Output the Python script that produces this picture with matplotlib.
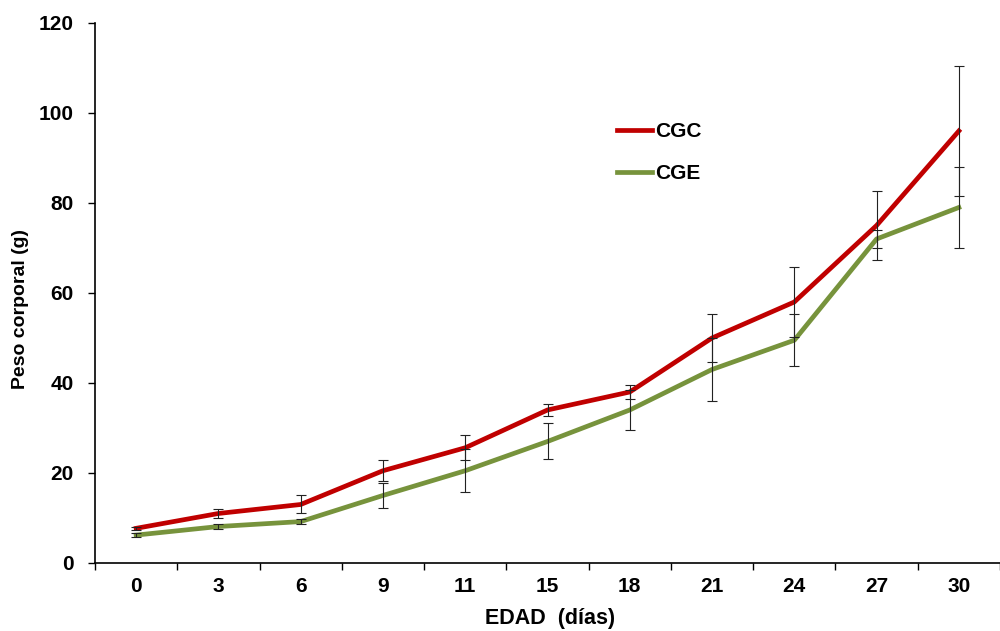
import matplotlib
matplotlib.use("Agg")
import matplotlib.pyplot as plt
import numpy as np

plt.rcParams['font.family'] = ['Liberation Sans', 'DejaVu Sans']

categories = ['0', '3', '6', '9', '11', '15', '18', '21', '24', '27', '30']
cgc = [7.7, 11.0, 13.0, 20.5, 25.6, 34.0, 38.0, 50.0, 58.0, 75.0, 96.0]
cgc_err = [0.4, 1.1, 2.0, 2.3, 2.8, 1.3, 1.5, 5.3, 7.7, 7.7, 14.4]
cge = [6.2, 8.1, 9.2, 15.0, 20.5, 27.0, 34.0, 43.0, 49.5, 72.0, 79.0]
cge_err = [0.4, 0.5, 0.6, 2.7, 4.8, 4.0, 4.5, 7.0, 5.8, 2.0, 9.0]

red = '#C00000'
green = '#77933C'

fig = plt.figure(figsize=(10, 6.31), dpi=100)
ax = fig.add_axes([0.095, 0.1078, 0.905, 0.8558])

x = np.arange(len(categories))
ax.plot(x, cgc, color=red, lw=3.4, label='CGC', zorder=3)
ax.plot(x, cge, color=green, lw=3.4, label='CGE', zorder=3)
ax.errorbar(x, cgc, yerr=cgc_err, fmt='none', ecolor='#222222', elinewidth=0.8,
            capsize=3.5, capthick=0.8, zorder=4)
ax.errorbar(x, cge, yerr=cge_err, fmt='none', ecolor='#222222', elinewidth=0.8,
            capsize=3.5, capthick=0.8, zorder=4)

ax.set_xlim(-0.5, len(categories) - 0.5)
ax.set_ylim(0, 120)
ax.set_yticks(np.arange(0, 121, 20))
ax.set_xticks(np.arange(-0.5, len(categories), 1.0))
ax.set_xticklabels([])
ax.set_xticks(x, minor=True)
ax.set_xticklabels(categories, minor=True)
ax.tick_params(axis='x', which='minor', length=0, pad=10)
ax.tick_params(axis='x', which='major', length=5, width=1, direction='out')
ax.tick_params(axis='y', length=5, width=1, direction='out', pad=10.5)

for lab in ax.get_xticklabels(minor=True) + ax.get_yticklabels():
    lab.set_fontsize(15)
    lab.set_fontweight('bold')

for s in ['top', 'right']:
    ax.spines[s].set_visible(False)
for s in ['left', 'bottom']:
    ax.spines[s].set_linewidth(1.2)

ax.set_xlabel('EDAD  (días)', fontsize=15.5, fontweight='bold')
ax.xaxis.set_label_coords(0.503, -0.083)
ax.set_ylabel('Peso corporal (g)', fontsize=14, fontweight='bold')
ax.yaxis.set_label_coords(-0.073, 0.47)

leg = ax.legend(loc='upper left', bbox_to_anchor=(0.598, 0.836), bbox_transform=fig.transFigure,
                frameon=False, handlelength=1.7, handletextpad=0.15, labelspacing=1.1,
                prop={'weight': 'bold', 'size': 15})

fig.savefig('out.png', dpi=100)
